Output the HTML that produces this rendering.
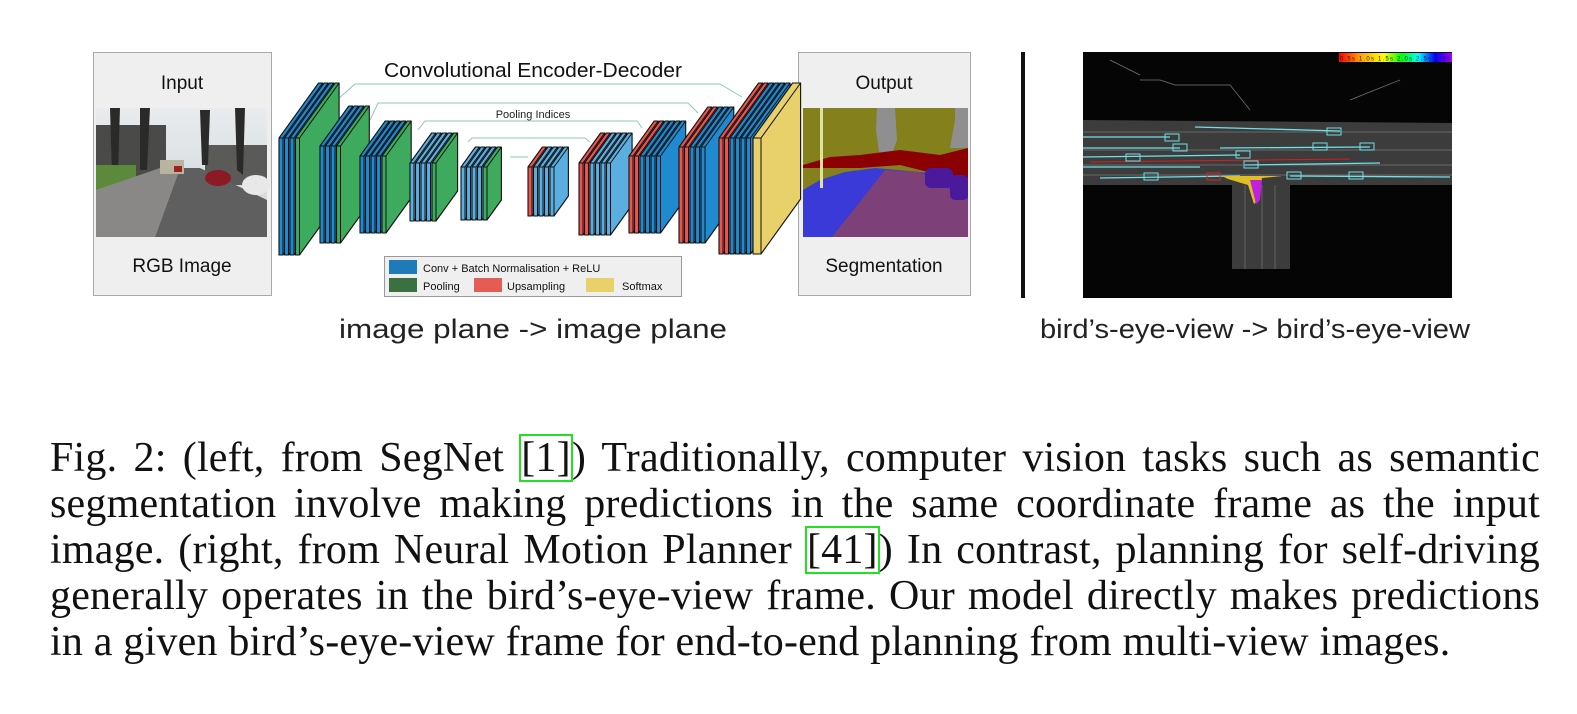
<!DOCTYPE html>
<html><head><meta charset="utf-8">
<style>
html,body{margin:0;padding:0;background:#fff;}
body{width:1577px;height:714px;position:relative;overflow:hidden;}
svg{position:absolute;left:0;top:0;}
.cap{position:absolute;left:50px;width:1490px;font-family:"Liberation Serif",serif;font-size:42px;letter-spacing:0.2px;color:#111;text-align:justify;text-align-last:justify;white-space:nowrap;line-height:46px;height:46px;}
.cap.last{text-align-last:left;}
.ref{outline:2.5px solid #22e022;outline-offset:-1px;padding:0 1px;}
</style></head><body>
<svg width="1577" height="714" xmlns="http://www.w3.org/2000/svg" id="s">
<defs>
<linearGradient id="sky" x1="0" y1="0" x2="0" y2="1"><stop offset="0" stop-color="#e8ecee"/><stop offset="1" stop-color="#cfd4d6"/></linearGradient>
</defs>
<rect x="93.5" y="52.5" width="178" height="243" fill="#efefef" stroke="#a8a8a8"/>
<text x="182" y="89" font-family="Liberation Sans,sans-serif" font-size="19" text-anchor="middle" fill="#111">Input</text>
<text x="182" y="272" font-family="Liberation Sans,sans-serif" font-size="19" text-anchor="middle" fill="#111">RGB Image</text>
<g>
<rect x="96" y="108" width="171" height="129" fill="url(#sky)"/>
<rect x="96" y="125" width="70" height="60" fill="#4a4a48"/>
<rect x="205" y="145" width="62" height="40" fill="#5a5a58"/>
<path d="M110 108 L120 108 L118 175 L112 175Z M140 108 L150 108 L147 170 L140 170Z M200 110 L210 110 L208 165 L202 165Z M235 108 L245 108 L243 175 L237 170Z" fill="#2a2a28"/>
<rect x="96" y="165" width="40" height="25" fill="#5c8a3a"/>
<polygon points="96,237 96,190 160,168 180,168 155,237" fill="#8a8886"/>
<polygon points="155,237 180,168 200,168 267,200 267,237" fill="#5f5f5f"/>
<rect x="160" y="160" width="24" height="14" fill="#b8b4a0"/>
<ellipse cx="218" cy="178" rx="13" ry="8" fill="#8b1a24"/>
<ellipse cx="256" cy="185" rx="14" ry="10" fill="#e8e8e8"/>
<rect x="174" y="166" width="8" height="6" fill="#a02020"/>
</g>
<rect x="798.5" y="52.5" width="172" height="243" fill="#efefef" stroke="#a8a8a8"/>
<text x="884" y="89" font-family="Liberation Sans,sans-serif" font-size="19" text-anchor="middle" fill="#111">Output</text>
<text x="884" y="272" font-family="Liberation Sans,sans-serif" font-size="19" text-anchor="middle" fill="#111">Segmentation</text>
<g>
<rect x="803" y="108" width="165" height="129" fill="#84801c"/>
<polygon points="877,108 895,108 897,140 890,160 880,160 876,130" fill="#8f8f8f"/>
<polygon points="955,108 968,108 968,148 950,148 955,120" fill="#8f8f8f"/>
<polygon points="803,165 830,157 860,155 900,150 940,155 968,148 968,185 940,175 900,165 860,168 803,168" fill="#8b0000"/>
<polygon points="803,190 820,180 845,172 875,168 920,172 945,175 968,178 968,237 803,237" fill="#3a3ad8"/>
<polygon points="832,237 885,170 920,172 968,200 968,237" fill="#7d4078"/>
<rect x="925" y="168" width="28" height="20" rx="6" fill="#4a1a9a"/>
<rect x="950" y="175" width="18" height="25" rx="5" fill="#4a1a9a"/>
<rect x="820" y="108" width="3" height="80" fill="#e0e0a0"/>
</g>
<rect x="1021" y="52" width="4" height="246" fill="#111"/>
<g>
<rect x="1083" y="52" width="369" height="246" fill="#050505"/>
<polygon points="1083,120 1452,123 1452,185 1290,185 1290,269 1232,269 1232,185 1083,185" fill="#3c3c3c"/>
<g stroke="#777" stroke-width="0.7" fill="none">
<line x1="1083" y1="132" x2="1452" y2="132"/><line x1="1083" y1="150" x2="1452" y2="150"/><line x1="1083" y1="165" x2="1452" y2="165"/><line x1="1083" y1="175" x2="1452" y2="175"/>
<line x1="1245" y1="185" x2="1245" y2="269"/><line x1="1262" y1="185" x2="1262" y2="269"/><line x1="1275" y1="185" x2="1275" y2="269"/>
<path d="M1140 80 L1160 80 L1175 85 L1230 85 L1250 110" /><path d="M1110 60 L1140 75"/><path d="M1350 100 L1400 80"/>
</g>
<g stroke="#6fe0e8" stroke-width="1.3" fill="none">
<line x1="1195" y1="127" x2="1340" y2="131"/><line x1="1083" y1="137" x2="1170" y2="137"/>
<line x1="1083" y1="148" x2="1180" y2="148"/><line x1="1220" y1="148" x2="1370" y2="147"/>
<line x1="1083" y1="157" x2="1240" y2="155"/><line x1="1083" y1="167" x2="1200" y2="167"/>
<line x1="1245" y1="165" x2="1380" y2="163"/><line x1="1100" y1="178" x2="1240" y2="176"/>
<line x1="1290" y1="176" x2="1450" y2="177"/>
</g>
<line x1="1090" y1="162" x2="1350" y2="159" stroke="#d02020" stroke-width="1"/>
<g stroke="#6fe0e8" stroke-width="1" fill="none">
<rect x="1327" y="128" width="14" height="7"/><rect x="1165" y="134" width="14" height="7"/><rect x="1173" y="144" width="14" height="7"/>
<rect x="1313" y="143" width="14" height="7"/><rect x="1360" y="143" width="14" height="7"/><rect x="1236" y="151" width="14" height="7"/>
<rect x="1126" y="154" width="14" height="7"/><rect x="1244" y="161" width="14" height="7"/><rect x="1144" y="173" width="14" height="7"/>
<rect x="1287" y="172" width="14" height="7"/><rect x="1349" y="172" width="14" height="7"/>
</g>
<rect x="1207" y="173" width="13" height="7" fill="none" stroke="#e02020"/>
<path d="M1222 176 L1282 176 L1262 178 L1258 200 L1254 204 L1248 185 L1228 179Z" fill="#e0c020"/>
<path d="M1250 180 L1262 180 L1260 200 L1256 204Z" fill="#c020e0"/>
<defs><linearGradient id="cb" x1="0" x2="1"><stop offset="0" stop-color="#f00"/><stop offset=".2" stop-color="#fa0"/><stop offset=".4" stop-color="#ff0"/><stop offset=".55" stop-color="#0f0"/><stop offset=".7" stop-color="#0ff"/><stop offset=".85" stop-color="#00f"/><stop offset="1" stop-color="#a0f"/></linearGradient></defs>
<rect x="1339" y="53" width="113" height="9" fill="url(#cb)"/>
<text x="1395" y="60.5" font-family="Liberation Sans,sans-serif" font-size="6" text-anchor="middle" fill="#222" textLength="110">0.5s 1.0s 1.5s 2.0s 2.5s 3.0s</text>
</g>
<text x="533" y="77" font-family="Liberation Sans,sans-serif" font-size="20" text-anchor="middle" fill="#111" textLength="298" lengthAdjust="spacingAndGlyphs">Convolutional Encoder-Decoder</text>
<text x="533" y="118" font-family="Liberation Sans,sans-serif" font-size="11" text-anchor="middle" fill="#222">Pooling Indices</text>
<g stroke="#8fc8b8" stroke-width="1" fill="none">
<path d="M337 100 L355 84 L720 84 L742 97"/>
<path d="M370 120 L378 103 L688 103 L698 113"/>
<path d="M418 130 L425 121 L637 121 L642 128"/>
<path d="M468 142 L472 138 L585 138 L590 142"/>
<path d="M510 157 L528 157"/>
</g>
<g id="net"></g>
<rect x="384.5" y="256.5" width="297" height="40" fill="#efefef" stroke="#999"/>
<rect x="389" y="260" width="28" height="14" fill="#1e7ab8"/>
<text x="423" y="272" font-family="Liberation Sans,sans-serif" font-size="11" fill="#111">Conv + Batch Normalisation + ReLU</text>
<rect x="389" y="278" width="28" height="14" fill="#3b7040"/>
<text x="423" y="290" font-family="Liberation Sans,sans-serif" font-size="11" fill="#111">Pooling</text>
<rect x="474" y="278" width="28" height="14" fill="#e55c55"/>
<text x="507" y="290" font-family="Liberation Sans,sans-serif" font-size="11" fill="#111">Upsampling</text>
<rect x="586" y="278" width="28" height="14" fill="#e8d06a"/>
<text x="622" y="290" font-family="Liberation Sans,sans-serif" font-size="11" fill="#111">Softmax</text>
<text x="533" y="338" font-family="Liberation Sans,sans-serif" font-size="27" text-anchor="middle" fill="#222" textLength="388" lengthAdjust="spacingAndGlyphs">image plane -&gt; image plane</text>
<text x="1255" y="338" font-family="Liberation Sans,sans-serif" font-size="27" text-anchor="middle" fill="#222" textLength="430" lengthAdjust="spacingAndGlyphs">bird’s-eye-view -&gt; bird’s-eye-view</text>
</svg>
<div class="cap" style="top:435px">Fig. 2: (left, from SegNet <span class="ref">[1]</span>) Traditionally, computer vision tasks such as semantic</div>
<div class="cap" style="top:481px">segmentation involve making predictions in the same coordinate frame as the input</div>
<div class="cap" style="top:527px">image. (right, from Neural Motion Planner <span class="ref">[41]</span>) In contrast, planning for self-driving</div>
<div class="cap" style="top:573px">generally operates in the bird’s-eye-view frame. Our model directly makes predictions</div>
<div class="cap last" style="top:619px">in a given bird’s-eye-view frame for end-to-end planning from multi-view images.</div>
<script>
var C={b:'#1f8ad0',l:'#5aaee0',g:'#3daa5e',r:'#e8564f',y:'#e8d06a'};
var G=[
[279,138,255,55,'bbbg'],[320,146,243,40,'bbbg'],[360,156,233,35,'bbbbg'],[410,163,221,30,'llllg'],[461,167,220,20,'llllg'],
[528,167,216,20,'rllll'],[579,163,235,30,'rrllll'],[629,156,233,35,'rrbbbb'],[679,147,243,40,'rrbbb'],[719,138,254,55,'rrbbbby']];
var out='';
G.forEach(function(g){var x0=g[0],yt=g[1],yb=g[2],d=g[3],s=g[4];var dx=d*0.72;
for(var i=0;i<s.length;i++){var w=(s[i]=='y')?8:4;var x=x0+i*5.5+(s[i]=='y'?1:0);
out+='<polygon points="'+x+','+yb+' '+x+','+yt+' '+(x+dx)+','+(yt-d)+' '+(x+w+dx)+','+(yt-d)+' '+(x+w+dx)+','+(yb-d)+' '+(x+w)+','+yb+'" fill="'+C[s[i]]+'" stroke="#111" stroke-width="1.1" stroke-linejoin="round"/>';
out+='<line x1="'+(x+w)+'" y1="'+yb+'" x2="'+(x+w)+'" y2="'+yt+'" stroke="#111" stroke-width="1"/><line x1="'+x+'" y1="'+yt+'" x2="'+(x+w)+'" y2="'+yt+'" stroke="#111" stroke-width="1"/><line x1="'+(x+w)+'" y1="'+yt+'" x2="'+(x+w+dx)+'" y2="'+(yt-d)+'" stroke="#111" stroke-width="1"/>';}
});
document.getElementById('net').innerHTML=out;
</script>
</body></html>
